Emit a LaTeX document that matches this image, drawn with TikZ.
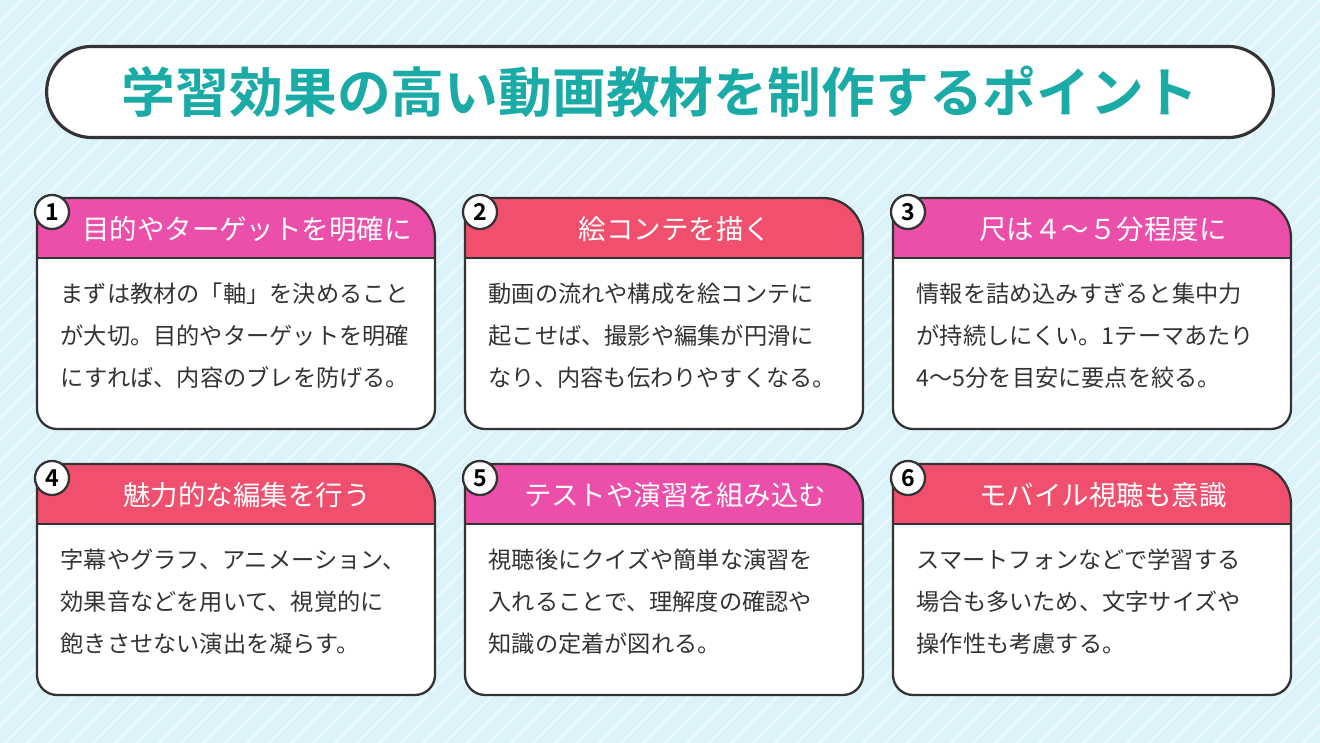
\documentclass[tikz,border=0pt]{standalone}
\usepackage{fontspec}
\newfontfamily\cjk{Noto Sans CJK JP}
\newfontfamily\cjkb{Noto Sans CJK JP Bold}
\usepackage{tikz}
\definecolor{bgblue}{HTML}{DDF3FA}
\definecolor{ink}{HTML}{333333}
\definecolor{teal}{HTML}{1AABA6}
\definecolor{headpink}{HTML}{EB4FAA}
\definecolor{headred}{HTML}{F0506E}
\tikzset{
  cardline/.style={draw=ink, line width=0.65pt},
  headtext/.style={text=white, font=\cjk\fontsize{7.8}{9}\selectfont, anchor=center},
  bodytext/.style={text=ink, font=\cjk\fontsize{6.6}{12}\selectfont, align=left, anchor=north west, inner sep=0pt},
  numdot/.style={circle, draw=ink, fill=white, line width=0.65pt, minimum size=0.34cm, inner sep=0pt, font=\cjkb\fontsize{6.6}{8}\selectfont}
}
\newcommand{\cardWidth}{398}
\newcommand{\cardHeight}{231}
\newcommand{\headHeight}{60}
\begin{document}
\begin{tikzpicture}[x=0.01cm, y=-0.01cm]
	% background
	\fill[bgblue] (0,0) rectangle (1320,743);
	\useasboundingbox (0,0) rectangle (1320,743);
	\begin{scope}
		\clip (0,0) rectangle (1320,743);
		\foreach \i in {0,22,...,2100}
		{
			\draw[white, opacity=0.55, line width=0.5pt] (\i,0) -- ++(-800,800);
		}
	\end{scope}
	% title
	\node[draw=ink, fill=white, line width=0.9pt, rounded corners=0.45cm, minimum width=12.26cm, minimum height=0.91cm] (title) at (660,92) {};
	\node[text=teal, font=\cjkb\fontsize{15.3}{17}\selectfont] (titletext) at (title.center) {学習効果の高い動画教材を制作するポイント};
	% cards
	\foreach \n/\x/\y/\col/\head/\body in {
		1/37/198/headpink/目的やターゲットを明確に/{まずは教材の「軸」を決めること\\が大切。目的やターゲットを明確\\にすれば、内容のブレを防げる。},
		2/465/198/headred/絵コンテを描く/{動画の流れや構成を絵コンテに\\起こせば、撮影や編集が円滑に\\なり、内容も伝わりやすくなる。},
		3/893/198/headpink/尺は４～５分程度に/{情報を詰め込みすぎると集中力\\が持続しにくい。1テーマあたり\\4～5分を目安に要点を絞る。},
		4/37/464/headred/魅力的な編集を行う/{字幕やグラフ、アニメーション、\\効果音などを用いて、視覚的に\\飽きさせない演出を凝らす。},
		5/465/464/headpink/テストや演習を組み込む/{視聴後にクイズや簡単な演習を\\入れることで、理解度の確認や\\知識の定着が図れる。},
		6/893/464/headred/モバイル視聴も意識/{スマートフォンなどで学習する\\場合も多いため、文字サイズや\\操作性も考慮する。}}
	{
		\begin{scope}[shift={(\x,\y)}]
			\path[fill=white] (0,100) [rounded corners=0.2cm] -- (0,0) [rounded corners=0.4cm] -- (\cardWidth,0) [rounded corners=0.2cm] -- (\cardWidth,\cardHeight) -- (0,\cardHeight) -- cycle;
			\begin{scope}
				\clip (0,100) [rounded corners=0.2cm] -- (0,0) [rounded corners=0.4cm] -- (\cardWidth,0) [rounded corners=0.2cm] -- (\cardWidth,\cardHeight) -- (0,\cardHeight) -- cycle;
				\fill[\col] (0,0) rectangle (\cardWidth,\headHeight);
			\end{scope}
			\draw[cardline] (0,\headHeight) -- (\cardWidth,\headHeight);
			\draw[cardline] (0,100) [rounded corners=0.2cm] -- (0,0) [rounded corners=0.4cm] -- (\cardWidth,0) [rounded corners=0.2cm] -- (\cardWidth,\cardHeight) -- (0,\cardHeight) -- cycle;
			\node[headtext] (head\n) at (210,31) {\head};
			\node[numdot] (num\n) at (15,14) {\n};
			\node[bodytext] (body\n) at (23,84) {\body};
		\end{scope}
	}
\end{tikzpicture}
\end{document}
